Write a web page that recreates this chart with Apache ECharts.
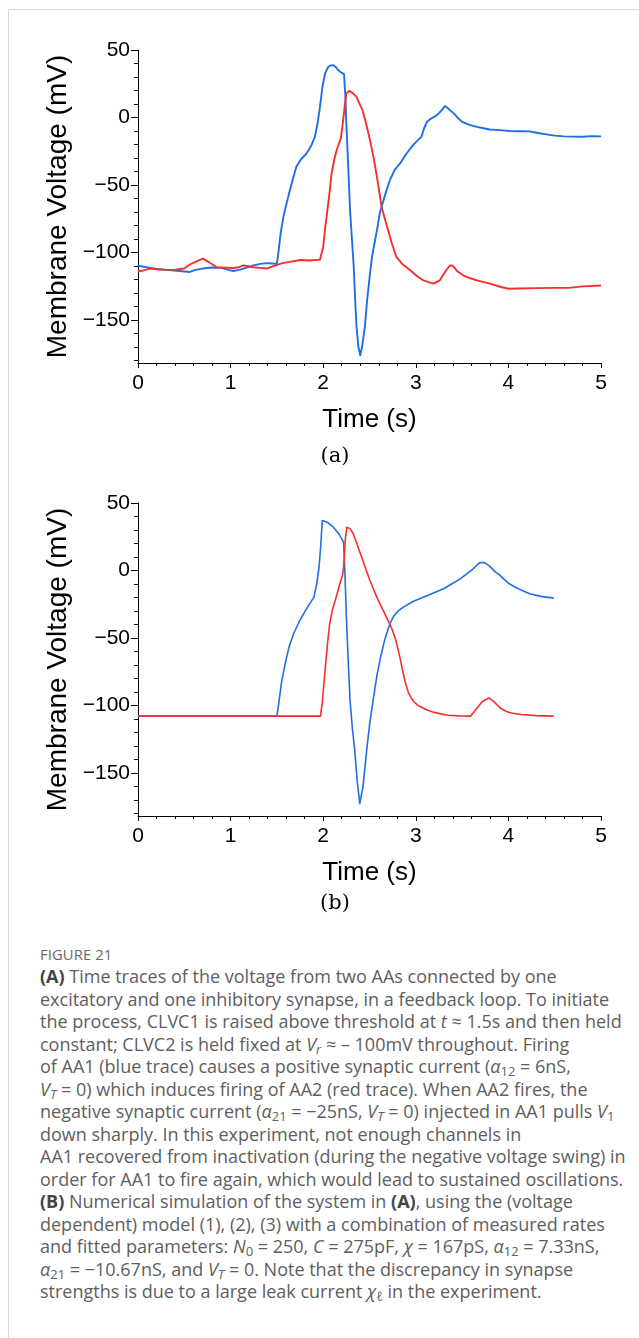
<!DOCTYPE html>
<html>
<head>
<meta charset="utf-8">
<script src="https://cdn.jsdelivr.net/npm/echarts@6/dist/echarts.min.js"></script>
<style>
  html, body { margin: 0; padding: 0; background: #fff; }
  body { width: 639px; height: 1338px; position: relative; overflow: hidden; }
  #frame { position: absolute; left: 8px; top: 9px; width: 700px; height: 1400px;
           border-top: 1px solid #d6d6d6; border-left: 1px solid #d6d6d6; }
  #chart { position: absolute; left: 0; top: 0; width: 639px; height: 930px; }
  #caption { position: absolute; left: 40px; top: 943px; color: #5e5e5e;
             font-family: "Open Sans", Lato, sans-serif; font-size: 18px; line-height: 22.5px;
             white-space: nowrap; }
  #caption .fig { font-size: 14.8px; letter-spacing: 0.1px; color: #6a6a6a; line-height: 22px; }
  #caption b { color: #444; font-weight: 700; }
  #caption i { font-style: italic; }
  #caption sub { font-size: 0.72em; vertical-align: -0.25em; line-height: 0; }
</style>
</head>
<body>
<div id="frame"></div>
<div id="chart"></div>
<div id="caption">
  <div class="fig">FIGURE 21</div>
  <div><b>(A)</b> Time traces of the voltage from two AAs connected by one</div>
  <div>excitatory and one inhibitory synapse, in a feedback loop. To initiate</div>
  <div>the process, CLVC1 is raised above threshold at <i>t</i> ≈ 1.5s and then held</div>
  <div>constant; CLVC2 is held fixed at <i>V<sub>r</sub></i> ≈ – 100mV throughout. Firing</div>
  <div>of AA1 (blue trace) causes a positive synaptic current (<i>α</i><sub>12</sub> = 6nS,</div>
  <div><i>V<sub>T</sub></i> = 0) which induces firing of AA2 (red trace). When AA2 fires, the</div>
  <div>negative synaptic current (<i>α</i><sub>21</sub> = −25nS, <i>V<sub>T</sub></i> = 0) injected in AA1 pulls <i>V</i><sub>1</sub></div>
  <div>down sharply. In this experiment, not enough channels in</div>
  <div>AA1 recovered from inactivation (during the negative voltage swing) in</div>
  <div>order for AA1 to fire again, which would lead to sustained oscillations.</div>
  <div><b>(B)</b> Numerical simulation of the system in <b>(A)</b>, using the (voltage</div>
  <div>dependent) model (1), (2), (3) with a combination of measured rates</div>
  <div>and fitted parameters: <i>N</i><sub>0</sub> = 250, <i>C</i> = 275pF, <i>χ</i> = 167pS, <i>α</i><sub>12</sub> = 7.33nS,</div>
  <div><i>α</i><sub>21</sub> = −10.67nS, and <i>V<sub>T</sub></i> = 0. Note that the discrepancy in synapse</div>
  <div>strengths is due to a large leak current <i>χ<sub>ℓ</sub></i> in the experiment.</div>
</div>
<script>
// Time ticks (s) and voltage ticks (mV)
const timeTicks = [0, 1, 2, 3, 4, 5];
const voltMajorTicks = [-150, -100, -50, 0, 50];
const voltMinorTicks = [-180, -170, -160, -140, -130, -120, -110, -90, -80, -70, -60,
                        -40, -30, -20, -10, 10, 20, 30, 40];

// (a) measured traces, [time s, voltage mV]
const aa1Measured = [
  [0,-109.6],[0.05,-110.5],[0.13,-111.5],[0.22,-112.5],[0.31,-113],[0.45,-113.8],[0.56,-114.5],
  [0.62,-113],[0.70,-112],[0.80,-111.2],[0.90,-111.5],[0.97,-112.8],[1.03,-113.8],[1.09,-113],
  [1.14,-112],[1.20,-110.8],[1.245,-109.6],[1.32,-108.5],[1.39,-108],[1.45,-108.3],[1.50,-108.5],
  [1.52,-98],[1.54,-86],[1.57,-73.7],[1.60,-65],[1.64,-54],[1.68,-44],[1.71,-36.6],[1.76,-31],
  [1.82,-26.7],[1.87,-21],[1.91,-14.4],[1.94,-4],[1.965,7.9],[1.99,22],[2.02,32.6],[2.055,37.5],
  [2.08,38.5],[2.11,38.8],[2.14,37],[2.16,35.1],[2.19,33.5],[2.225,32.1],[2.24,15],[2.25,-4.5],
  [2.27,-36],[2.29,-68.8],[2.31,-90],[2.33,-110.8],[2.345,-135],[2.36,-155],[2.38,-170],
  [2.40,-176.3],[2.42,-170],[2.45,-155],[2.475,-135],[2.505,-115.7],[2.53,-102],[2.56,-91],
  [2.59,-80],[2.61,-71.2],[2.64,-64],[2.67,-57],[2.72,-46.5],[2.77,-39],[2.83,-34.1],[2.90,-26.7],
  [2.97,-20.5],[3.02,-17],[3.06,-14.4],[3.09,-8],[3.12,-3.3],[3.16,-1],[3.23,1.7],[3.28,5.5],
  [3.315,8.4],[3.36,6],[3.41,3],[3.45,0],[3.50,-3.3],[3.58,-5.5],[3.66,-7],[3.73,-8],[3.80,-8.9],
  [3.91,-9.4],[4.01,-10],[4.12,-10.2],[4.23,-10.3],[4.32,-11.5],[4.41,-12.5],[4.50,-13.5],
  [4.60,-14],[4.67,-14.2],[4.80,-14.3],[4.90,-13.8],[5.0,-14]
];
const aa2Measured = [
  [0,-114],[0.05,-113.5],[0.13,-112],[0.20,-112.5],[0.31,-113],[0.40,-112.8],[0.50,-112],
  [0.56,-109],[0.62,-107],[0.70,-104.6],[0.76,-107],[0.85,-111],[0.95,-111.3],[1.03,-111.6],
  [1.09,-111],[1.14,-109.6],[1.20,-110.5],[1.245,-111],[1.32,-111.5],[1.39,-112],[1.47,-110],
  [1.56,-108],[1.64,-107],[1.75,-105.7],[1.85,-106],[1.965,-105.4],
  [2.0,-96],[2.02,-83],[2.045,-68.8],[2.07,-55],[2.09,-41.6],[2.12,-31],[2.145,-24.3],[2.19,-15.6],
  [2.205,-8],[2.22,0.5],[2.235,10],[2.25,17.8],[2.28,19.7],[2.32,18],[2.36,15.3],[2.40,9],
  [2.425,5.4],[2.465,-5],[2.505,-16.8],[2.545,-30],[2.58,-44],[2.61,-57],[2.63,-66.3],[2.69,-81],
  [2.74,-93],[2.79,-103.4],[2.86,-109],[2.94,-113.3],[3.01,-117.5],[3.08,-120.7],[3.19,-123.2],
  [3.26,-120.7],[3.32,-114],[3.37,-109.6],[3.40,-110],[3.45,-114],[3.51,-117],[3.58,-119],
  [3.66,-120.7],[3.80,-123.2],[3.91,-125.5],[4.0,-127],[4.1,-126.8],[4.3,-126.5],[4.5,-126.3],
  [4.65,-126.3],[4.8,-125.2],[5.0,-124.6]
];

// (b) simulated traces, [time s, voltage mV]
const aa1Model = [
  [0,-108],[1.5,-108],[1.525,-96],[1.55,-83],[1.59,-69],[1.63,-57],[1.68,-46.9],[1.74,-38],
  [1.81,-29.6],[1.86,-24],[1.90,-19.8],[1.93,-10],[1.955,2.4],[1.975,20],[1.99,37],[2.0,37.8],
  [2.05,35.5],[2.11,32.1],[2.17,27],[2.22,21],[2.235,-2.5],[2.25,-34],[2.27,-66.7],[2.29,-96.3],
  [2.315,-117],[2.34,-133],[2.37,-158],[2.395,-172.8],[2.43,-160],[2.47,-133],[2.505,-112],
  [2.54,-96],[2.58,-78],[2.62,-64],[2.67,-50],[2.72,-39.5],[2.76,-34],[2.81,-30],[2.865,-27.2],
  [2.97,-23],[3.08,-19.8],[3.19,-16.7],[3.30,-13.6],[3.40,-9.5],[3.48,-6.2],[3.55,-2.5],[3.62,1.2],
  [3.66,4],[3.69,5.8],[3.71,6.2],[3.74,5.8],[3.77,4.5],[3.80,3],[3.85,-0.5],[3.91,-3.7],
  [3.96,-7],[4.01,-9.9],[4.07,-12.3],[4.12,-14],[4.18,-15.8],[4.23,-17.3],[4.35,-19.2],[4.49,-20.5]
];
const aa2Model = [
  [0,-108],[1.97,-108],[1.99,-98],[2.01,-82],[2.03,-66.7],[2.05,-52],[2.07,-39.5],[2.10,-29],
  [2.13,-22.2],[2.18,-9.9],[2.21,-3],[2.22,2.4],[2.23,12],[2.24,24],[2.255,32],[2.265,33.3],
  [2.29,31],[2.325,27.2],[2.37,18.5],[2.415,9.9],[2.46,1],[2.505,-7.4],[2.55,-15],[2.595,-22.2],
  [2.65,-30],[2.70,-37],[2.74,-43],[2.775,-49.4],[2.80,-56],[2.83,-65],[2.86,-75],[2.89,-84],
  [2.92,-90.5],[2.95,-94.5],[2.98,-97.3],[3.02,-99.8],[3.07,-101.8],[3.13,-103.6],[3.20,-105.2],
  [3.28,-106.5],[3.35,-107.3],[3.47,-107.8],[3.59,-108],[3.65,-103],[3.72,-97],[3.79,-94.5],
  [3.84,-97],[3.92,-102.5],[3.98,-104.6],[4.03,-105.6],[4.14,-106.8],[4.30,-107.6],[4.49,-108]
];

const BLUE = '#1f6fe3';
const RED = '#fa2d2d';
const tickFont = '"Liberation Sans", Arial, sans-serif';

function voltLabel(v) { return v < 0 ? '\u2212' + (-v) : String(v); }

function xAxisFor(gridIndex) {
  return {
    type: 'value', gridIndex, min: timeTicks[0], max: timeTicks[timeTicks.length - 1], interval: 1,
    name: 'Time (s)', nameLocation: 'middle', nameGap: 44,
    nameTextStyle: { fontFamily: tickFont, fontSize: 26, color: '#000' },
    axisLine: { show: true, onZero: false, lineStyle: { color: '#000', width: 1 } },
    axisTick: { show: true, length: 5, lineStyle: { color: '#000' } },
    minorTick: { show: true, splitNumber: 5, length: 3, lineStyle: { color: '#000' } },
    axisLabel: { fontFamily: tickFont, fontSize: 21, color: '#000', margin: 10 },
    splitLine: { show: false }, minorSplitLine: { show: false }
  };
}
function yAxesFor(gridIndex) {
  return [{
    type: 'value', gridIndex, min: -182, max: 50, position: 'left',
    name: 'Membrane Voltage (mV)', nameLocation: 'middle', nameGap: 59,
    nameTextStyle: { fontFamily: tickFont, fontSize: 28, color: '#000' },
    axisLine: { show: true, onZero: false, lineStyle: { color: '#000', width: 1 } },
    axisTick: { show: true, length: 7, customValues: voltMajorTicks, lineStyle: { color: '#000' } },
    axisLabel: { customValues: voltMajorTicks, formatter: voltLabel, fontFamily: tickFont,
                 fontSize: 21, color: '#000', margin: 8 },
    splitLine: { show: false }
  }, {
    type: 'value', gridIndex, min: -182, max: 50, position: 'left', offset: 0,
    axisLine: { show: false, onZero: false },
    axisTick: { show: true, length: 4, customValues: voltMinorTicks, lineStyle: { color: '#000' } },
    axisLabel: { show: false },
    splitLine: { show: false }
  }];
}
function trace(data, color, xi, yi, width) {
  return {
    type: 'line', data, xAxisIndex: xi, yAxisIndex: yi, showSymbol: false, symbol: 'none',
    lineStyle: { color, width, join: 'round' }, z: color === RED ? 3 : 2, clip: true
  };
}

const chart = echarts.init(document.getElementById('chart'), null, { renderer: 'canvas' });
chart.setOption({
  animation: false,
  backgroundColor: 'transparent',
  grid: [
    { left: 138, top: 50, width: 463, height: 313 },
    { left: 138, top: 503, width: 463, height: 313 }
  ],
  xAxis: [xAxisFor(0), xAxisFor(1)],
  yAxis: [...yAxesFor(0), ...yAxesFor(1)],
  series: [
    trace(aa1Measured, BLUE, 0, 0, 1.9),
    trace(aa2Measured, RED, 0, 0, 1.9),
    trace(aa1Model, BLUE, 1, 2, 1.6),
    trace(aa2Model, RED, 1, 2, 1.6)
  ],
  graphic: [
    { type: 'text', x: 335, y: 457, style: { text: '(a)', textAlign: 'center', textVerticalAlign: 'middle',
      font: '21px "DejaVu Serif", serif', fill: '#000' } },
    { type: 'text', x: 335, y: 904, style: { text: '(b)', textAlign: 'center', textVerticalAlign: 'middle',
      font: '21px "DejaVu Serif", serif', fill: '#000' } }
  ]
});
</script>
</body>
</html>
